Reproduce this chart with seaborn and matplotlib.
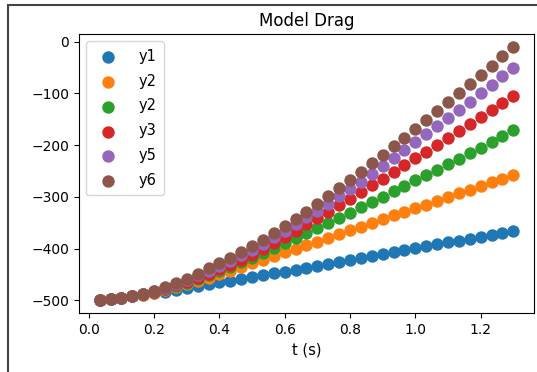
import numpy as np
import pandas as pd
import matplotlib
matplotlib.use("Agg")
import matplotlib.pyplot as plt
import seaborn as sns
from matplotlib.patches import Rectangle

# time samples (s)
t = [k / 30 for k in range(1, 40)]

labels = ["y1", "y2", "y2", "y3", "y5", "y6"]

y1 = [-500, -498, -495.5, -492.5, -489.5, -486.5, -483, -479.5, -476, -472.5,
      -469, -465.5, -462, -458.5, -455, -451.5, -448, -444.5, -441, -437.5,
      -433, -429.5, -426, -422.5, -418.5, -415, -411, -407, -403, -399,
      -395.5, -392, -388, -384.5, -381, -377.5, -374, -370, -366.5]
y2a = [-500, -498, -495.5, -492.5, -489, -485, -480.5, -475, -469, -462.5,
       -456, -449.5, -442.5, -435.5, -428.5, -421.5, -414.5, -407.5, -400.5, -393.5,
       -386.5, -379, -372, -365, -357.5, -350.5, -343.5, -336, -329, -322,
       -315, -307.5, -300.5, -293.5, -286.5, -279, -272, -265, -258]
y2b = [-500, -498, -495.5, -492, -488, -483.5, -478.5, -473, -466, -459,
       -451.5, -443.5, -435, -426.5, -417.5, -408.5, -399, -389.5, -380, -370.5,
       -360.5, -350.5, -340.5, -330.5, -320.5, -310.5, -300, -289.5, -279, -268.5,
       -258, -247.5, -237, -226.5, -216, -205, -194, -183, -171]
y3 = [-500, -498, -495.5, -492.5, -488.5, -483.5, -477.5, -471, -464, -456.5,
      -448.5, -440, -431, -421.5, -411.5, -401, -390, -378.5, -366, -353.5,
      -341, -328.5, -316, -303.5, -291, -278, -265, -252, -239, -226,
      -212.5, -199, -185.5, -172, -158.5, -145, -131.5, -118, -104.5]
y5 = [-500, -498, -495.5, -492.5, -488, -482.5, -476, -468.5, -460.5, -452,
      -443, -433.5, -423.5, -413, -402, -390.5, -378.5, -366, -353, -340,
      -326.5, -313, -299, -285, -270.5, -256, -241, -226, -210.5, -195,
      -179.5, -164, -148, -132, -116, -99.5, -83.5, -67, -51]
y6 = [-500, -498, -495.5, -492, -487.5, -481.5, -474.5, -466.5, -458, -448.5,
      -438.5, -428.5, -418, -407, -395.5, -383.5, -370.5, -357, -343, -328.5,
      -313.5, -298.5, -283, -267.5, -251.5, -235.5, -219, -202.5, -186, -169,
      -152, -135, -117.5, -100, -82.5, -64.5, -46.5, -28.5, -10]

series = [y1, y2a, y2b, y3, y5, y6]
colors = sns.color_palette("tab10")[:6]

fig = plt.figure(figsize=(5.37, 3.72), dpi=100)
ax = fig.add_axes([0.1471, 0.1586, 0.8473, 0.75])

for lab, ys, c in zip(labels, series, colors):
    df = pd.DataFrame({"t": t, "y": ys})
    sns.scatterplot(data=df, x="t", y="y", ax=ax, color=c, s=80,
                    linewidth=0, label=lab)

ax.set_title("Model Drag", fontsize=12)
ax.set_xlabel("t (s)", fontsize=10.5)
ax.set_ylabel("")
ax.set_xticks([0.0, 0.2, 0.4, 0.6, 0.8, 1.0, 1.2])
ax.set_yticks([0, -100, -200, -300, -400, -500])
ax.tick_params(labelsize=10)
ax.legend(loc="upper left", fontsize=10.5, labelspacing=0.68, handletextpad=1.1,
          borderpad=0.5, markerscale=1.0)

fig.add_artist(Rectangle((8 / 537, -0.1), 1.2, 367 / 372 + 0.1,
                         transform=fig.transFigure, fill=False,
                         edgecolor="#444444", linewidth=1.5))

fig.savefig("out.png", dpi=100)
